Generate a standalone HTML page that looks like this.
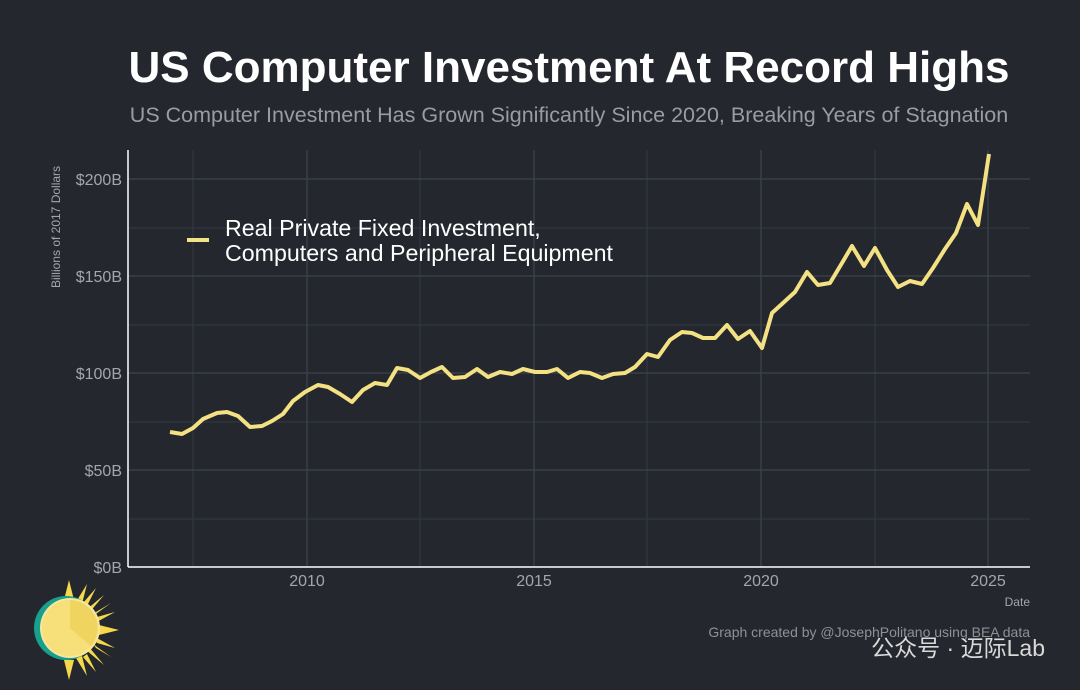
<!DOCTYPE html>
<html><head><meta charset="utf-8"><style>
body{margin:0;width:1080px;height:690px;background:#24272e;overflow:hidden;font-family:"Liberation Sans",sans-serif}
</style></head><body>
<svg width="1080" height="690" xmlns="http://www.w3.org/2000/svg" style="position:absolute;left:0;top:0">
<text x="569" y="82" text-anchor="middle" font-size="44" font-weight="bold" fill="#fff" font-family="Liberation Sans">US Computer Investment At Record Highs</text>
<text x="569" y="122" text-anchor="middle" font-size="21.5" fill="#9a9ca2" font-family="Liberation Sans">US Computer Investment Has Grown Significantly Since 2020, Breaking Years of Stagnation</text>
<g stroke="#353943" stroke-width="1">
<line x1="128" x2="1030" y1="519" y2="519"/><line x1="128" x2="1030" y1="422" y2="422"/><line x1="128" x2="1030" y1="325" y2="325"/><line x1="128" x2="1030" y1="228" y2="228"/>
<line x1="193" x2="193" y1="150" y2="567"/><line x1="420" x2="420" y1="150" y2="567"/><line x1="647" x2="647" y1="150" y2="567"/><line x1="875" x2="875" y1="150" y2="567"/>
</g>
<g stroke="#3f434d" stroke-width="1.2">
<line x1="128" x2="1030" y1="470" y2="470"/><line x1="128" x2="1030" y1="373" y2="373"/><line x1="128" x2="1030" y1="276" y2="276"/><line x1="128" x2="1030" y1="179" y2="179"/>
<line x1="307" x2="307" y1="150" y2="567"/><line x1="534" x2="534" y1="150" y2="567"/><line x1="761" x2="761" y1="150" y2="567"/><line x1="988" x2="988" y1="150" y2="567"/>
</g>
<line x1="128" x2="128" y1="150" y2="567" stroke="#fff" stroke-width="1.5"/>
<line x1="128" x2="1030" y1="567" y2="567" stroke="#fff" stroke-width="1.5"/>
<g font-size="16" fill="#a4a6ab" text-anchor="end" font-family="Liberation Sans">
<text x="122" y="573">$0B</text><text x="122" y="476">$50B</text><text x="122" y="379">$100B</text><text x="122" y="282">$150B</text><text x="122" y="185">$200B</text>
</g>
<g font-size="16" fill="#a4a6ab" text-anchor="middle" font-family="Liberation Sans">
<text x="307" y="586">2010</text><text x="534" y="586">2015</text><text x="761" y="586">2020</text><text x="988" y="586">2025</text>
</g>
<text x="1030" y="606" text-anchor="end" font-size="12" fill="#a4a6ab">Date</text>
<text transform="translate(60,227) rotate(-90)" text-anchor="middle" font-size="12" fill="#a4a6ab">Billions of 2017 Dollars</text>
<polyline fill="none" stroke="#f3e183" stroke-width="4" stroke-linejoin="round" points="170,432 182,434 193,428 203,419 217,413 227,412 238,416 250,427 262,426 272,421 283,414 293,401 305,392 318,385 328,387 340,394 352,402 363,390 375,383 387,385 397,368 408,370 420,378 431,372 442,367 453,378 465,377 477,369 488,377 500,372 512,374 523,369 535,372 547,372 557,369 568,378 580,372 590,373 602,378 613,374 625,373 635,367 647,354 658,357 670,340 682,332 692,333 703,338 715,338 727,325 738,339 750,331 762,348 772,313 783,303 795,292 807,272 818,285 830,283 842,263 852,246 864,266 875,248 887,270 898,287 910,281 922,284 933,268 945,249 956,233 967,204 978,225 989,154"/>
<line x1="187" x2="209" y1="240" y2="240" stroke="#f3e183" stroke-width="4"/>
<text x="225" y="236" font-size="23.2" fill="#fff">Real Private Fixed Investment,</text>
<text x="225" y="261" font-size="23.2" fill="#fff">Computers and Peripheral Equipment</text>
<text x="1030" y="637" text-anchor="end" font-size="14" fill="#8f9197">Graph created by @JosephPolitano using BEA data</text>
<text x="1045" y="656" text-anchor="end" font-size="23" fill="#d9d9d9" font-family="Liberation Sans, Noto Sans CJK SC, sans-serif">公众号 · 迈际Lab</text>
<g transform="translate(69,630)">
<g fill="#f5d94a">
<polygon points="0,-50 5,-30 -5,-30"/><polygon points="0,50 5,30 -5,30"/>
<polygon points="50,0 30,5 30,-5"/><polygon points="35,-35 20,-17 17,-20"/><polygon points="35,35 20,17 17,20"/>
<polygon points="18,-46 13,-26 7,-28"/><polygon points="18,46 13,26 7,28"/><polygon points="46,-18 26,-7 28,-13"/><polygon points="46,18 26,7 28,13"/>
<polygon points="27,-42 18,-24 14,-27"/><polygon points="27,42 18,24 14,27"/><polygon points="42,-27 24,-14 27,-18"/><polygon points="42,27 24,14 27,18"/>
</g>
<circle cx="-3" cy="-2" r="32" fill="#17a08c"/>
<circle cx="1" cy="-2" r="30" fill="#f8e6a0"/>
<circle cx="1" cy="-2" r="28" fill="#f7e07a"/>
<path d="M1,-2 L1,-30 A28,28 0 0,1 22,16 Z" fill="#f0d460"/>
</g>
</svg>
</body></html>
